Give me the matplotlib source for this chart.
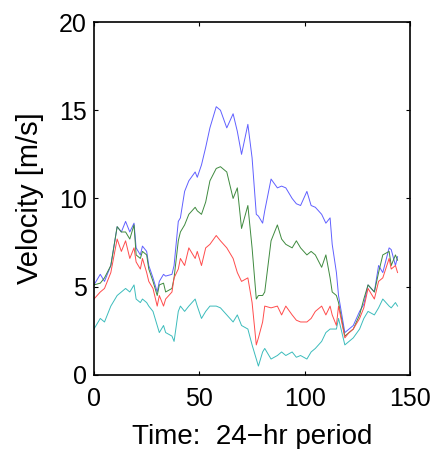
import numpy as np
import matplotlib.pyplot as plt

plt.rcParams['font.family'] = ['Liberation Sans', 'DejaVu Sans']

# sample times (24-hr period index)
t = [0, 3, 5, 8, 11, 13, 15, 17, 19, 20, 22, 23, 25, 26, 28, 30, 31, 33, 34, 37,
     38, 40, 41, 43, 45, 48, 49, 51, 53, 55, 58, 60, 63, 66, 68, 70, 73, 75, 77,
     78, 80, 81, 84, 87, 89, 91, 94, 96, 98, 101, 103, 105, 108, 110, 112, 113,
     115, 116, 119, 121, 123, 126, 128, 130, 133, 135, 137, 140, 141, 143, 144]

blue = [5.1, 5.7, 5.3, 6.2, 8.4, 8.1, 8.7, 8.1, 8.6, 7.2, 6.8, 7.3, 7.0, 6.2, 5.5, 4.7, 5.3, 5.7, 5.6, 5.7,
        6.2, 8.7, 8.9, 10.4, 11.0, 11.5, 11.2, 11.9, 12.9, 14.0, 15.2, 15.0, 14.0, 14.8, 13.8, 12.5, 14.2, 12.3, 9.1,
        9.0, 8.6, 9.3, 11.1, 10.6, 10.7, 10.6, 10.0, 9.7, 9.6, 10.4, 9.6, 9.5, 9.1, 8.6, 8.9, 7.4,
        5.8, 4.5, 2.4, 2.6, 2.8, 3.6, 4.0, 5.1, 4.7, 6.2, 5.8, 7.2, 7.1, 6.2, 6.7]

green = [5.1, 5.2, 5.5, 6.2, 8.4, 8.1, 8.1, 7.7, 8.5, 6.8, 6.6, 7.0, 6.8, 6.0, 5.3, 4.5, 5.1, 5.2, 4.7, 4.9,
         5.5, 7.6, 8.1, 8.5, 9.1, 9.5, 9.3, 9.1, 9.8, 11.0, 11.7, 11.8, 11.5, 10.0, 10.6, 8.3, 9.6, 7.2, 4.3,
         4.5, 4.5, 4.7, 7.6, 8.5, 7.7, 7.4, 7.2, 7.6, 7.2, 6.8, 7.0, 6.8, 6.1, 6.8, 5.5, 4.7,
         4.5, 4.1, 2.2, 2.4, 2.6, 3.4, 4.3, 5.1, 4.7, 5.8, 6.8, 7.0, 6.2, 6.8, 6.5]

red = [4.3, 4.7, 4.9, 5.8, 7.7, 7.0, 7.6, 6.6, 7.2, 6.4, 6.0, 6.6, 5.8, 5.3, 4.9, 3.9, 4.5, 3.9, 4.3, 4.7,
       5.5, 6.0, 6.6, 6.2, 7.2, 6.6, 7.0, 6.2, 7.2, 7.4, 7.9, 7.6, 7.2, 6.6, 5.8, 5.3, 5.5, 4.1, 1.7,
       2.1, 3.0, 3.9, 3.8, 3.9, 3.4, 3.9, 3.4, 3.1, 3.0, 3.0, 3.2, 3.6, 3.9, 3.4, 3.9, 3.4,
       2.8, 3.9, 2.1, 2.4, 2.6, 3.2, 3.8, 4.9, 4.3, 5.3, 5.5, 6.6, 6.0, 6.2, 5.8]

cyan = [2.6, 3.2, 3.0, 3.9, 4.5, 4.7, 4.9, 4.7, 5.1, 4.3, 4.1, 4.3, 4.1, 3.9, 3.6, 2.8, 2.4, 2.8, 2.4, 2.2,
        1.9, 3.6, 3.9, 3.6, 3.9, 4.3, 3.9, 3.2, 3.6, 3.9, 3.9, 3.8, 3.4, 3.0, 3.4, 2.8, 2.6, 1.7, 0.9,
        0.5, 1.3, 1.5, 0.9, 1.1, 1.3, 1.1, 1.3, 1.0, 1.1, 0.9, 1.3, 1.5, 1.9, 2.4, 2.6, 2.6,
        2.6, 3.2, 1.7, 1.9, 2.1, 2.6, 3.2, 3.6, 3.4, 3.8, 4.3, 3.9, 3.8, 4.1, 3.9]

fig = plt.figure(figsize=(4.35, 4.49), dpi=100)
ax = fig.add_axes([0.216, 0.165, 0.727, 0.786])

ax.plot(t, blue, color='#6060ff', lw=0.7)
ax.plot(t, green, color='#3f8a3f', lw=0.7)
ax.plot(t, red, color='#ff4c4c', lw=0.7)
ax.plot(t, cyan, color='#3cbcbc', lw=0.7)

ax.set_xlim(0, 150)
ax.set_ylim(0, 20)
ax.set_xticks([0, 50, 100, 150])
ax.set_yticks([0, 5, 10, 15, 20])
ax.tick_params(direction='in', length=3, width=0.8, top=True, right=True, labelsize=18)
ax.tick_params(axis='x', pad=9)
ax.tick_params(axis='y', pad=5)
for s in ax.spines.values():
    s.set_linewidth(1.2)

ax.set_xlabel('Time:  24\u2212hr period', fontsize=20, labelpad=9)
ax.set_ylabel('Velocity [m/s]', fontsize=21, labelpad=11)

fig.savefig('out.png', dpi=100)
